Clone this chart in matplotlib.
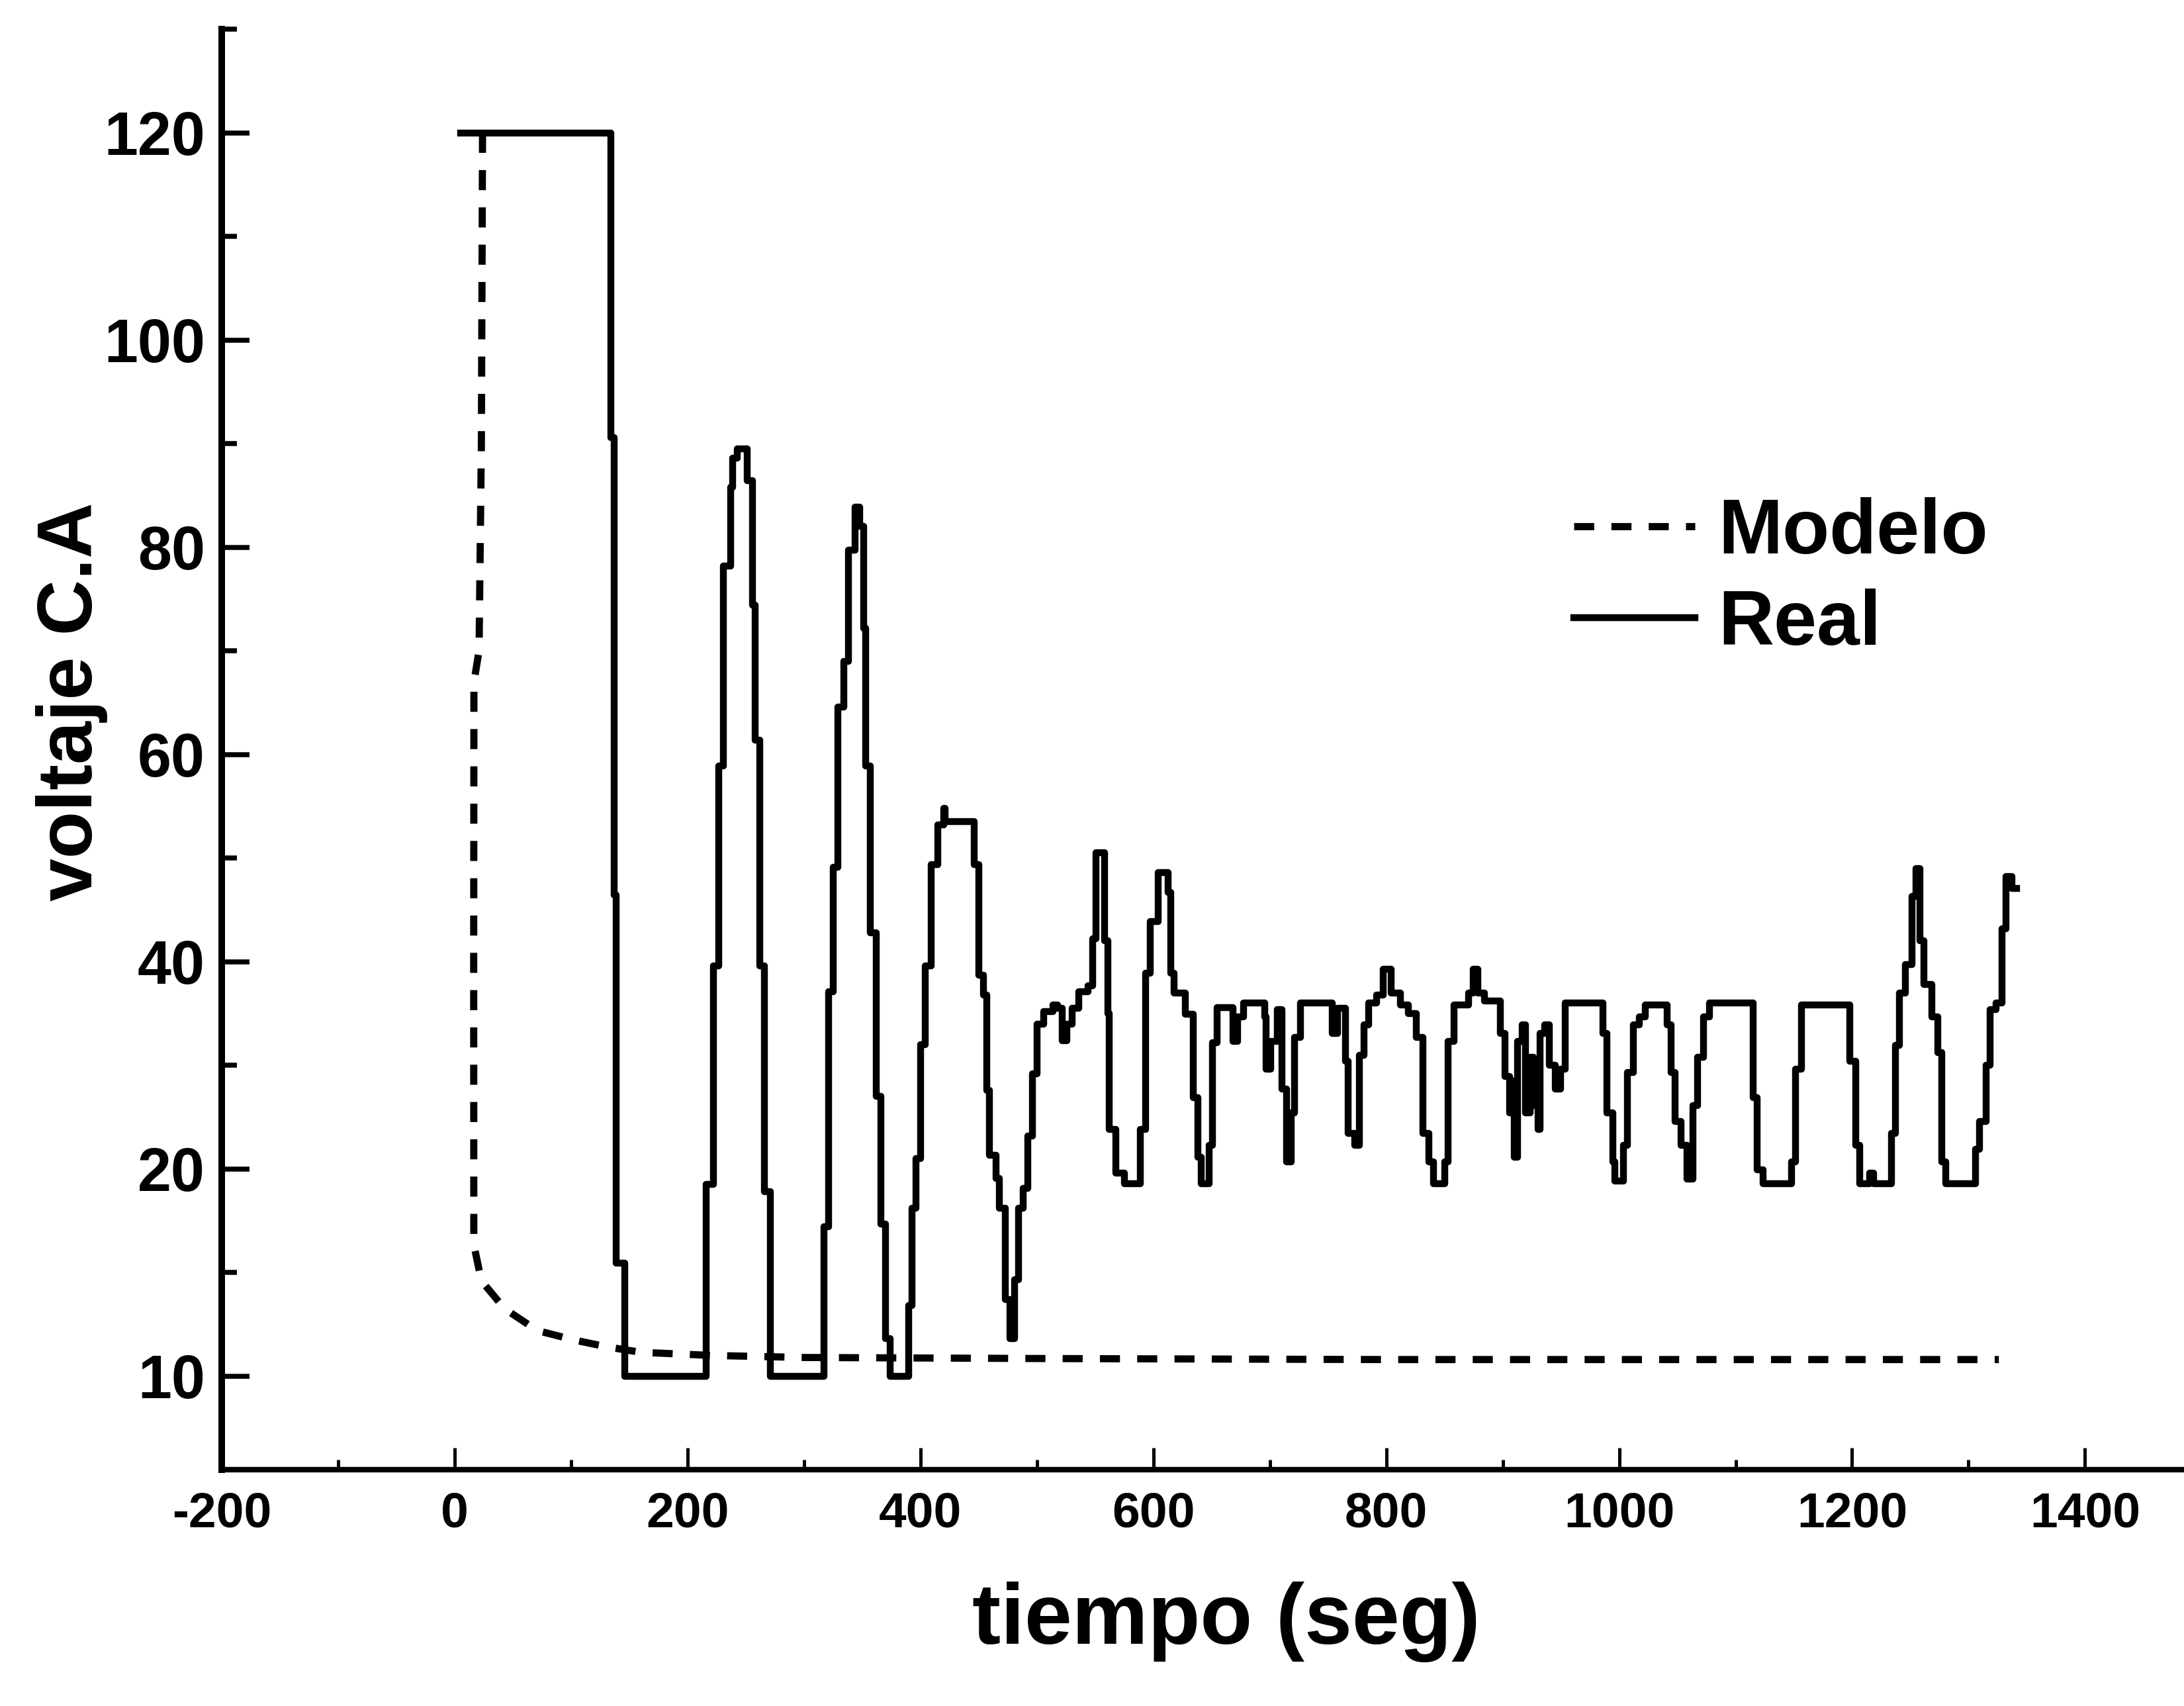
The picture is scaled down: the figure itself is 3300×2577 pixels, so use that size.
import matplotlib.pyplot as plt
from matplotlib.ticker import MultipleLocator

plt.rcParams['font.family'] = ['Liberation Sans', 'DejaVu Sans']
plt.rcParams['font.weight'] = 'bold'
plt.rcParams['axes.unicode_minus'] = False

# model response (dashed), y in axis units: the "10" tick sits at 0
model_t = [24, 23, 21, 16.6, 16.4, 16.5, 23, 43, 71, 102, 132, 160, 220, 300, 500, 800, 1100, 1326]
model_u = [120, 90, 70, 67, 40, 12.7, 9.2, 6.5, 4.4, 3.5, 2.8, 2.3, 2.0, 1.8, 1.7, 1.6, 1.6, 1.6]

# measured signal (staircase, steps-post)
real_t = [5, 134, 137, 139, 146, 216, 222, 227, 231, 237, 239, 243, 251, 256, 258, 262, 266, 271,
          317, 321, 325, 329, 334, 338, 344, 348, 351, 353, 357, 362, 366, 370, 374,
          390, 393, 396, 400, 404, 409, 415, 420, 421, 446, 450, 454, 457, 459, 465, 468, 473, 477,
          481, 484, 488, 492, 496, 500, 506, 514, 518, 522, 526, 530, 536, 544,
          548, 551, 558, 561, 562, 568, 575, 589, 593.5, 597.6, 604.4, 612.5, 615.2, 617.9, 627.5,
          634.2, 638.3, 641, 647.8, 650.5, 654.6, 668.2, 672.3, 677.7, 695.4, 696.7, 700.8, 706.2,
          710.3, 714.4, 718.5, 721.2, 726.6, 753.8, 757.9, 764.7, 767.4, 772.8, 776.9, 781, 785,
          791.8, 797.3, 804.1, 812.2, 819, 825.8, 831.2, 836.7, 840.7, 850.2, 852.9, 858.4, 870.6,
          874.7, 878.8, 884.2, 897.8, 901.9, 905.9, 908.7, 910, 912.7, 916.8, 919.5, 923.6, 926.3,
          930.4, 931.8, 935.8, 939.9, 945.3, 949.4, 953.5, 986.2, 989.6, 994.8, 996.5, 1003.4,
          1006.8, 1012, 1017.2, 1022.3, 1041.2, 1044.7, 1048.2, 1053.3, 1058.5, 1063.6, 1067.1,
          1072.2, 1077.4, 1115.2, 1118.7, 1123.8, 1147.9, 1151.4, 1156.5, 1197.8, 1203, 1206.4,
          1215, 1218.5, 1234, 1237.4, 1240.8, 1246, 1251.2, 1254.6, 1258, 1261.5, 1268.4, 1273.5,
          1277, 1280.4, 1306.2, 1309.6, 1314.8, 1318.3, 1323.4, 1328.6, 1332, 1337.2, 1341]
real_u = [120, 90.6, 46.4, 10.9, 0, 18.5, 39.6, 58.9, 78.2, 85.8, 88.6, 89.5, 86.4, 74.4, 61.4, 39.6, 17.8, 0,
          14.4, 37.1, 49.1, 64.6, 69, 79.7, 83.9, 82, 72.2, 58.9, 42.8, 27, 14.7, 3.6, 0,
          6.8, 16.2, 21, 32, 39.6, 49.4, 53.2, 54.8, 53.5, 49.4, 38.7, 36.8, 27.6, 21.3, 19.1, 16.2, 7.4, 3.6,
          9.3, 16.2, 18.1, 23.2, 29.2, 34, 35.2, 35.8, 35.5, 32.4, 34, 35.5, 37.1, 37.7,
          42.2, 50.5, 42, 35, 23.8, 19.6, 18.6, 23.8, 38.9, 43.9, 48.6, 46.7, 38.9, 37, 34.9,
          26.9, 21.1, 18.6, 22.3, 32.2, 35.6, 32.3, 34.7, 36, 34.7, 29.6, 32.3, 35.4,
          27.7, 20.7, 25.4, 32.7, 36, 33.1, 35.5, 30.4, 23.4, 22.3, 31, 33.9, 36,
          36.8, 39.3, 37, 35.8, 35, 32.7, 23.4, 20.7, 18.6, 20.7, 32.3, 35.8, 37,
          39.3, 37, 36.2, 33.1, 28.9, 25.4, 28.5, 21.1, 32.3, 33.9, 25.4, 30.8, 26.1,
          23.8, 33.1, 33.9, 30, 27.7, 29.6, 36, 33.1, 25.4, 20.7, 18.8, 22.3,
          29.3, 33.9, 34.7, 35.8, 33.9, 29.3, 24.6, 22.3, 19, 26.1, 30.8,
          34.7, 36, 26.9, 19.9, 18.6, 20.7, 29.6, 35.8, 30.4, 22.3, 18.6,
          19.6, 18.6, 23.4, 31.9, 37, 39.7, 46.3, 49, 42, 37.8, 34.7, 31.2,
          20.7, 18.6, 21.9, 24.6, 30, 35.4, 36, 43.2, 48.2, 47.1, 47.1]

x_ticks = [-200, 0, 200, 400, 600, 800, 1000, 1200, 1400]
y_ticks = [0, 20, 40, 60, 80, 100, 120]
y_tick_labels = ["10", "20", "40", "60", "80", "100", "120"]

fig = plt.figure(figsize=(11, 8.59), dpi=300)
ax = fig.add_axes([0.1015, 0.1387, 0.8985, 0.8442])

ax.plot(model_t, model_u, color='black', lw=2.6, dashes=(2.8, 2.4), label='Modelo')
ax.plot(real_t, real_u, color='black', lw=2.5, drawstyle='steps-post', label='Real')

ax.set_xlim(-200, 1485)
ax.set_ylim(-9, 130)
ax.set_xticks(x_ticks)
ax.set_yticks(y_ticks)
ax.set_yticklabels(y_tick_labels)
ax.xaxis.set_minor_locator(MultipleLocator(100))
ax.yaxis.set_minor_locator(MultipleLocator(10))

ax.spines['top'].set_visible(False)
ax.spines['right'].set_visible(False)
ax.spines['left'].set_linewidth(2.4)
ax.spines['bottom'].set_linewidth(2.0)

ax.tick_params(axis='y', which='major', direction='in', length=10, width=1.8, labelsize=22, pad=6)
ax.tick_params(axis='y', which='minor', direction='in', length=5.5, width=1.8)
ax.tick_params(axis='x', which='major', direction='in', length=8, width=1.2, labelsize=18, pad=8)
ax.tick_params(axis='x', which='minor', direction='in', length=3.5, width=1.2)

ax.set_xlabel("tiempo (seg)", fontsize=31, fontweight='bold')
ax.xaxis.set_label_coords(0.512, -0.078)
ax.set_ylabel("voltaje C.A", fontsize=28, fontweight='bold')
ax.yaxis.set_label_coords(-0.058, 0.533)

ax.legend(loc='upper left', bbox_to_anchor=(0.689, 0.675), frameon=False,
          prop={'weight': 'bold', 'size': 28}, handlelength=1.57, handletextpad=0.3,
          labelspacing=0.25, borderaxespad=0, borderpad=0)

fig.savefig('out.png', dpi=300)
